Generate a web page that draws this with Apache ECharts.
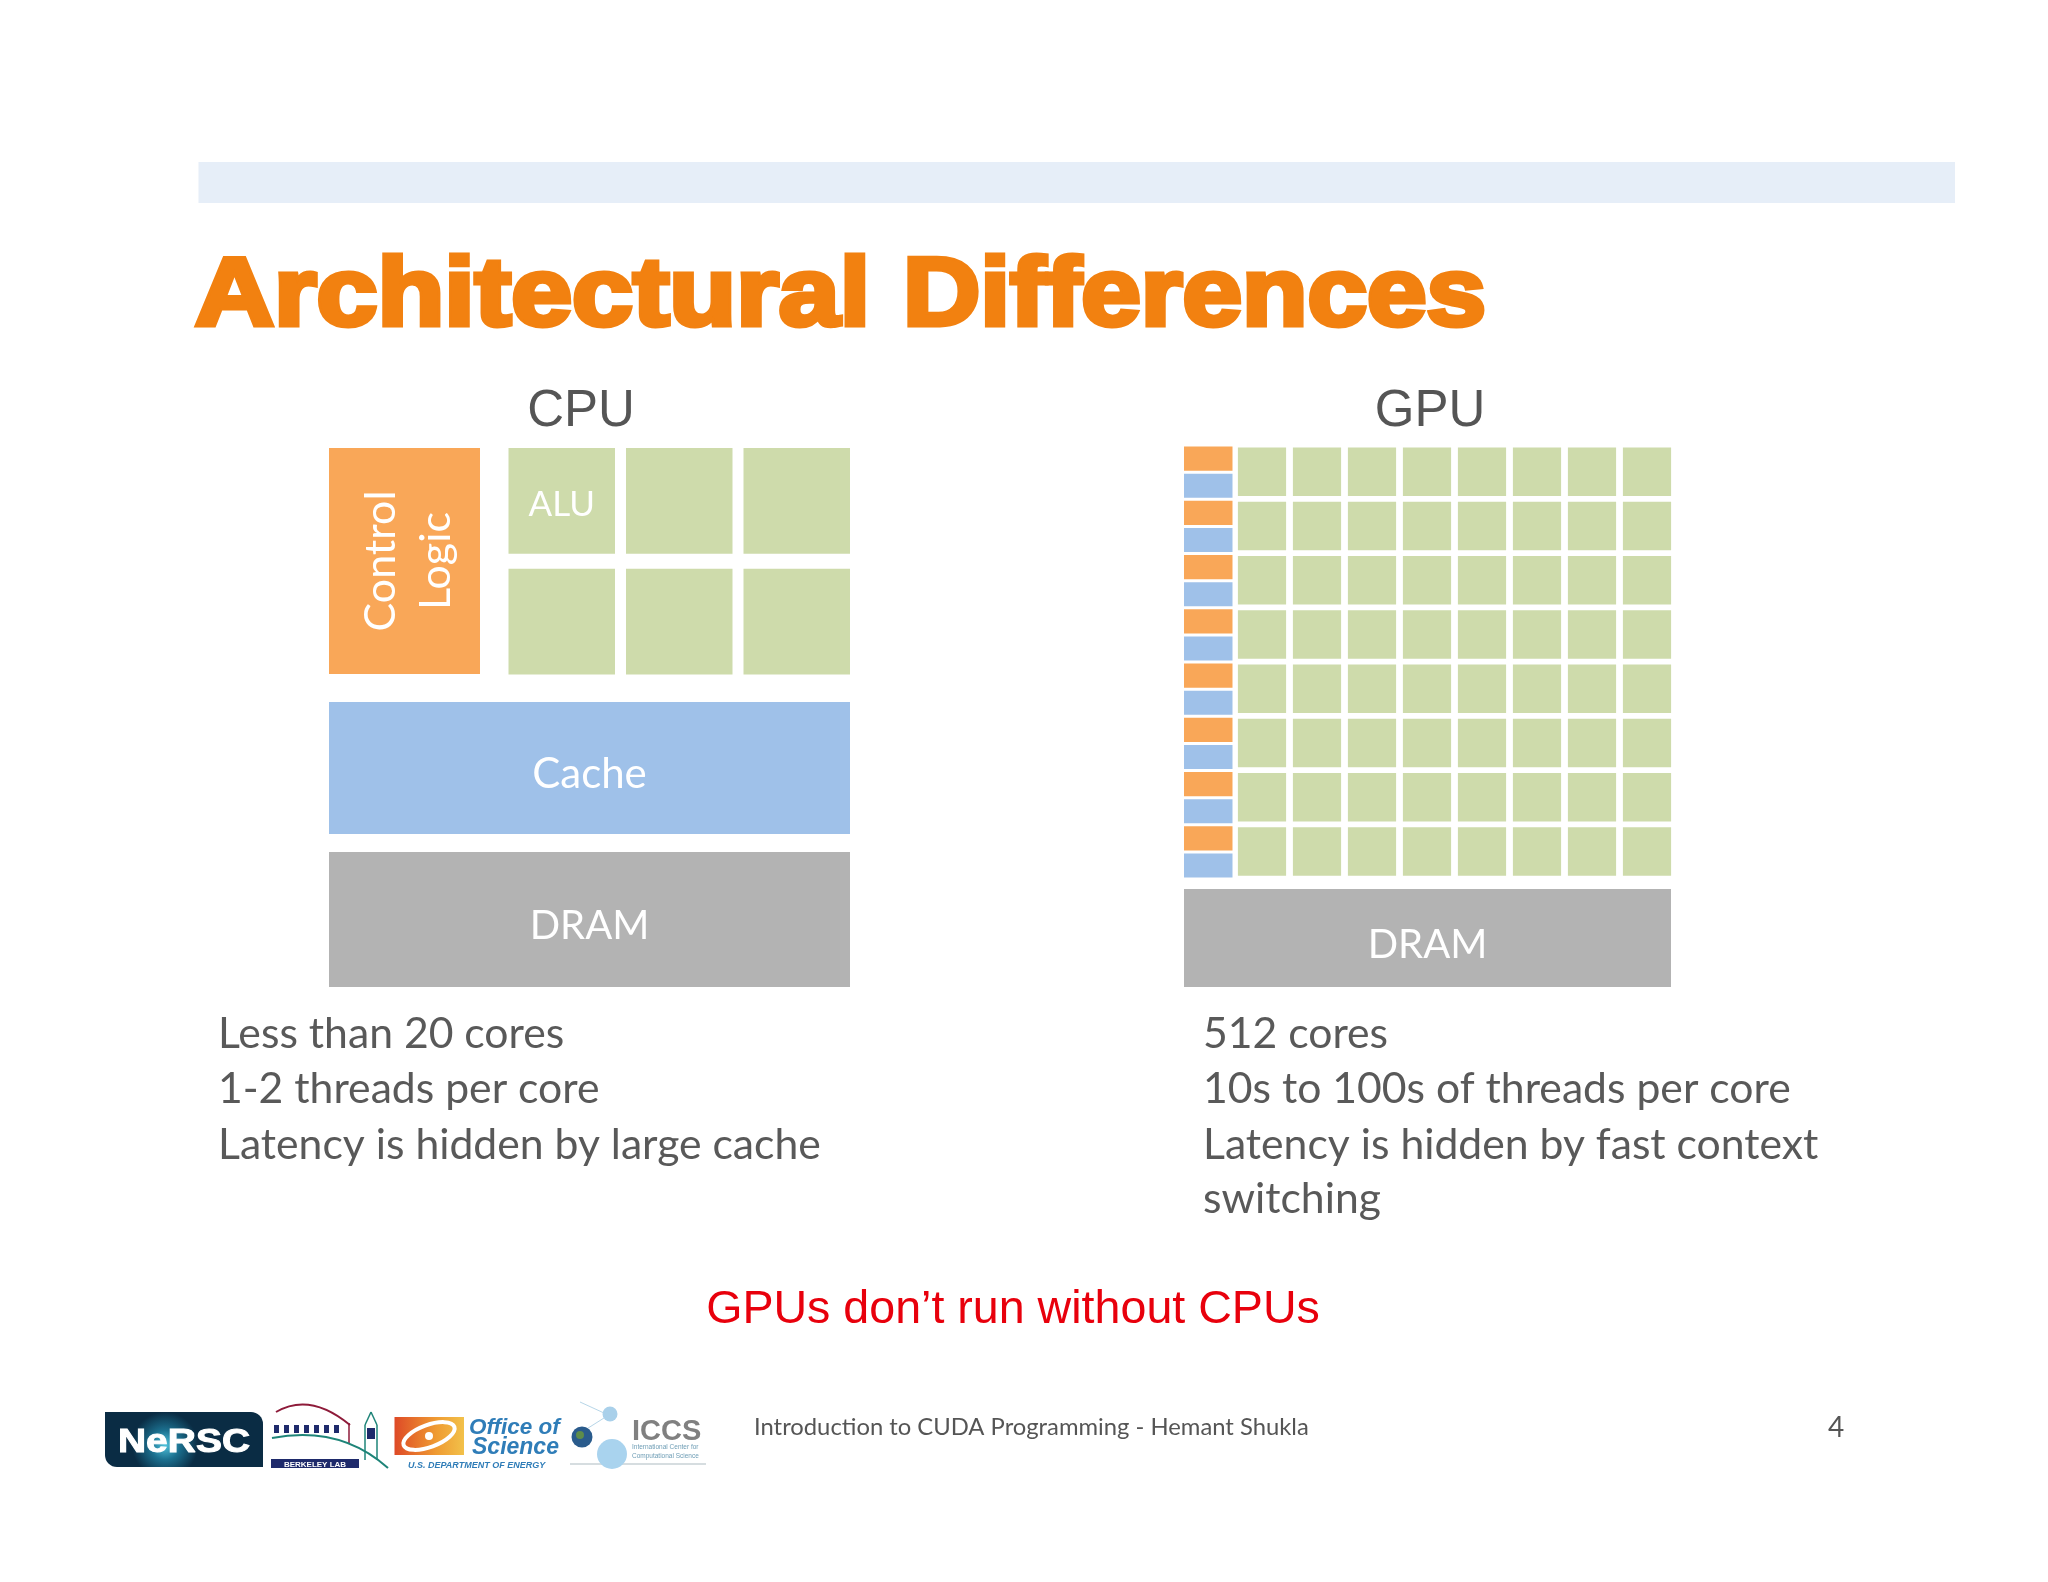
<!DOCTYPE html>
<html><head><meta charset="utf-8">
<style>html,body{margin:0;padding:0;background:#fff}#c{width:2048px;height:1582px}</style>
<script src="https://cdn.jsdelivr.net/npm/echarts@6/dist/echarts.min.js"></script>
</head><body><div id="c"></div>
<script>
// ---- content ----
const titleText = ['Architectural', 'Differences'];
const cpuLines = ['Less than 20 cores', '1-2 threads per core', 'Latency is hidden by large cache'];
const gpuLines = ['512 cores', '10s to 100s of threads per core', 'Latency is hidden by fast context', 'switching'];
const noteText = 'GPUs don\u2019t run without CPUs';
const footerText = 'Introduction to CUDA Programming - Hemant Shukla';
const pageNumber = '4';

// ---- cell kinds: 0 control, 1 core, 2 cache, 3 dram ----
const kindNames = ['control', 'core', 'cache', 'dram'];
const cpuControlCells = [[0, 0, 0]];
const cpuControlLabels = ['Control\nLogic'];
const cpuCoreCells = [[0,0,1],[1,0,1],[2,0,1],[0,1,1],[1,1,1],[2,1,1]];
const cpuCoreLabels = ['ALU','','','','',''];
const cpuCacheCells = [[0, 0, 2]];
const cpuCacheLabels = ['Cache'];
const cpuDramCells = [[0, 0, 3]];
const cpuDramLabels = ['DRAM'];
const gpuControlKinds = [0,2,0,2,0,2,0,2,0,2,0,2,0,2,0,2];
const gpuCoreMatrix = [
  [1,1,1,1,1,1,1,1],[1,1,1,1,1,1,1,1],[1,1,1,1,1,1,1,1],[1,1,1,1,1,1,1,1],
  [1,1,1,1,1,1,1,1],[1,1,1,1,1,1,1,1],[1,1,1,1,1,1,1,1],[1,1,1,1,1,1,1,1]
];
const gpuDramCells = [[0, 0, 3]];
const gpuDramLabels = ['DRAM'];

// ---- style & layout (separate from content) ----
const kindColors = ['#F9A758', '#CEDBAB', '#9FC1E9', '#B3B3B3'];
const bodyFont = 'Lato, "Open Sans", sans-serif';
const sans = '"Liberation Sans", Arial, sans-serif';

const panels = [
  {rect:[329,448,151,226],   cols:1, rows:1,  gap:[0,0],     cells:cpuControlCells, labels:cpuControlLabels, fs:43, rot:true, dx:4},
  {rect:[503,440.5,352.5,241.5], cols:3, rows:2, gap:[11,15], cells:cpuCoreCells, labels:cpuCoreLabels, fs:35, dy:4},
  {rect:[329,702,521,132],   cols:1, rows:1,  gap:[0,0],     cells:cpuCacheCells, labels:cpuCacheLabels, fs:42, dy:6},
  {rect:[329,852,521,135],   cols:1, rows:1,  gap:[0,0],     cells:cpuDramCells, labels:cpuDramLabels, fs:40, dy:7},
  {rect:[1184,445,48.5,434], cols:1, rows:16, gap:[0,3],     cells:gpuControlKinds.map((k,i)=>[0,i,k]), labels:[]},
  {rect:[1234.5,444.7,440,434], cols:8, rows:8, gap:[6.8,5.7], cells:gpuCoreMatrix.flatMap((r,y)=>r.map((k,x)=>[x,y,k])), labels:[]},
  {rect:[1184,889,487,98],   cols:1, rows:1,  gap:[0,0],     cells:gpuDramCells, labels:gpuDramLabels, fs:40, dy:7}
];

const ticks = n => Array.from({length:n}, (_, i) => String(i));
const hiddenAxis = (n, extra) => Object.assign({type:'category', show:false, data:ticks(n), boundaryGap:true}, extra);

const option = {
  animation:false,
  backgroundColor:'#ffffff',
  grid: panels.map(p => ({left:p.rect[0], top:p.rect[1], width:p.rect[2], height:p.rect[3], containLabel:false})),
  xAxis: panels.map((p,i) => hiddenAxis(p.cols, {gridIndex:i})),
  yAxis: panels.map((p,i) => hiddenAxis(p.rows, {gridIndex:i, inverse:true})),
  series: panels.map((p,i) => ({
    type:'custom', name:'panel'+i, xAxisIndex:i, yAxisIndex:i, data:p.cells, clip:false,
    encode:{x:0,y:1}, silent:true,
    renderItem(params, api){
      const c = api.coord([api.value(0), api.value(1)]);
      const s = api.size([1,1]);
      const w = s[0]-p.gap[0], h = s[1]-p.gap[1];
      const children = [{type:'rect', shape:{x:c[0]-w/2, y:c[1]-h/2, width:w, height:h},
        style:{fill:kindColors[api.value(2)]}}];
      const label = p.labels[params.dataIndex];
      if (label) children.push({type:'text', x:c[0]+(p.dx||0), y:c[1]+(p.dy||0), rotation:p.rot?Math.PI/2:0,
        style:{text:label, fill:'#ffffff', font:p.fs+'px '+bodyFont, textAlign:'center', textVerticalAlign:'middle', lineHeight:p.rot?55:undefined}});
      return {type:'group', children};
    }
  })),
  graphic:{elements:[]}
};

// ---- page text & furniture ----
const g = option.graphic.elements;
// y is the text baseline; converted to a top anchor from the font's ascent
const text = (s,x,y,font,fill,extra) => {
  const size = parseFloat(font.match(/([\d.]+)px/)[1]);
  const asc = font.indexOf('Lato') >= 0 ? 0.8 : 0.75;
  g.push(Object.assign({type:'text', x, y:y-asc*size, silent:true,
    style:Object.assign({text:s, font, fill, textAlign:'left', textVerticalAlign:'top'}, extra&&extra.style)}, extra&&extra.el));
};
const rect = (x,y,w,h,fill,r) => g.push({type:'rect', shape:{x,y,width:w,height:h,r:r||0}, style:{fill}, silent:true});
const circle = (cx,cy,r,fill) => g.push({type:'circle', shape:{cx,cy,r}, style:{fill}, silent:true});
const line = (x1,y1,x2,y2,stroke,lw) => g.push({type:'line', shape:{x1,y1,x2,y2}, style:{stroke,lineWidth:lw}, silent:true});
const curve = (x1,y1,cpx1,cpy1,x2,y2,stroke,lw) => g.push({type:'bezierCurve', shape:{x1,y1,cpx1,cpy1,x2,y2}, style:{stroke,lineWidth:lw,fill:null}, silent:true});

rect(198.5,162,1756.5,41,'#E6EEF8');

const titleFont = 'bold 96px '+sans;
text(titleText[0],195,322.5,titleFont,'#F28110',{style:{stroke:'#F28110', lineWidth:5}, el:{scaleX:1.14}});
text(titleText[1],903,322.5,titleFont,'#F28110',{style:{stroke:'#F28110', lineWidth:5}, el:{scaleX:1.115}});

text('CPU',581,425,'51px '+sans,'#555555',{style:{textAlign:'center'}});
text('GPU',1430,425,'51px '+sans,'#555555',{style:{textAlign:'center'}});

const lineYs = [1046.5,1101.5,1157.5,1212];
cpuLines.forEach((s,i)=>text(s,218,lineYs[i],'42.7px '+bodyFont,'#595959'));
gpuLines.forEach((s,i)=>text(s,1203,lineYs[i],'42.7px '+bodyFont,'#595959'));

text(noteText,1013,1322,'46.6px '+sans,'#E8000C',{style:{textAlign:'center'}});
text(footerText,754,1434,'23.8px '+bodyFont,'#555555');
text(pageNumber,1836,1436,'28px '+bodyFont,'#555555',{style:{textAlign:'center'}});

// NERSC logo
g.push({type:'rect', shape:{x:105,y:1412,width:158,height:55,r:[0,12,0,12]}, silent:true,
  style:{fill:{type:'radial',x:.38,y:.6,r:.6,colorStops:[{offset:0,color:'#4FC3DC'},{offset:.45,color:'#1B6F8E'},{offset:1,color:'#0A2C44'}]}}});
text('NeRSC',184,1451,'bold 33px '+sans,'#ffffff',{style:{textAlign:'center', stroke:'#ffffff', lineWidth:1}, el:{scaleX:1.18}});

// Berkeley Lab logo
curve(276,1412,310,1392,350,1425,'#8E1B3A',2);
line(349,1423,349,1443,'#8E1B3A',1.5);
['274','284','294','304','314','324','334'].forEach(x=>rect(+x,1425,5,8,'#1E2A6B'));
curve(272,1438,340,1425,388,1468,'#1E8478',2);
line(365,1425,365,1460,'#1E8478',1.5); line(377,1425,377,1460,'#1E8478',1.5);
line(365,1425,371,1412,'#1E8478',1.5); line(377,1425,371,1412,'#1E8478',1.5);
rect(367,1428,8,11,'#1E2A6B');
rect(271,1459,88,9,'#1E2A6B');
text('BERKELEY LAB',315,1467,'bold 8px '+sans,'#ffffff',{style:{textAlign:'center'}});

// Office of Science logo
g.push({type:'rect', shape:{x:394.5,y:1417,width:69.5,height:38}, silent:true,
  style:{fill:{type:'linear',x:0,y:0,x2:1,y2:0,colorStops:[{offset:0,color:'#DE4A27'},{offset:.6,color:'#EF9B32'},{offset:1,color:'#F2C14A'}]}}});
g.push({type:'ellipse', shape:{cx:429,cy:1436,rx:27,ry:11}, rotation:.35, originX:429, originY:1436, silent:true, style:{fill:'none',stroke:'#ffffff',lineWidth:4}});
circle(429,1436,4,'#ffffff');
const navy = '#2F7DB8';
text('Office of',469,1433,'italic bold 22.5px '+sans,navy);
text('Science',472,1453,'italic bold 23px '+sans,navy);
text('U.S. DEPARTMENT OF ENERGY',408,1468,'italic bold 9px '+sans,navy);

// ICCS logo
line(580,1402,604,1413,'#B7D6E8',1); line(585,1430,604,1418,'#B7D6E8',1);
line(570,1464,706,1464,'#C8D2D6',1.5);
circle(610,1414,7.5,'#A9D0EA');
circle(612,1454,15,'#A9D3EE');
circle(582,1437,10.5,'#2A5B8C');
circle(580,1435,4,'#5E8C4A');
text('ICCS',632,1439,'bold 29px '+sans,'#808080');
text('International Center for',632,1449,'6.5px '+sans,'#6E9DB5');
text('Computational Science',632,1458,'6.5px '+sans,'#6E9DB5');

const chart = echarts.init(document.getElementById('c'));
chart.setOption(option);
</script></body></html>
